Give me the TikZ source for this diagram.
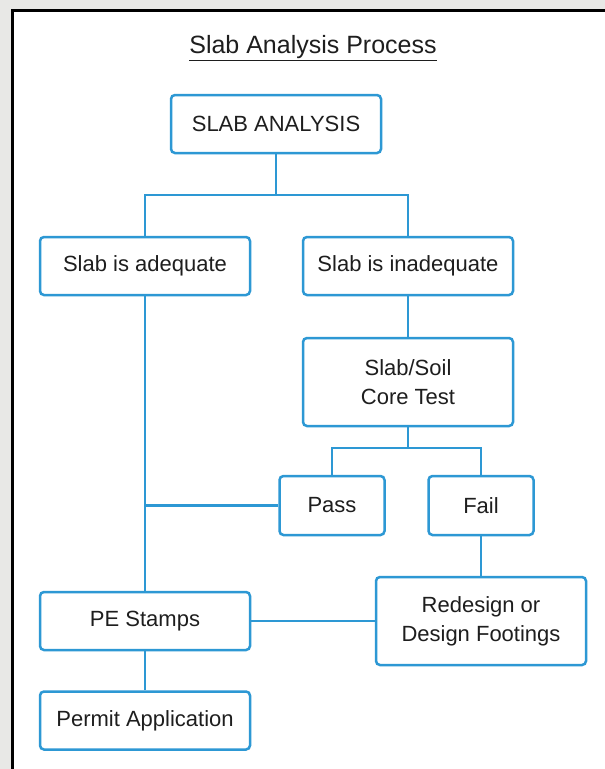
\documentclass[tikz,border=0pt]{standalone}
\usepackage{fontspec}
\setmainfont{Liberation Sans}
\definecolor{kaaviosini}{RGB}{45,152,212}
\definecolor{tekstiharmaa}{RGB}{30,30,30}
\definecolor{taustaharmaa}{RGB}{232,232,230}

\begin{document}
\begin{tikzpicture}[x=1pt,y=-1pt,
  laatikko/.style={draw=kaaviosini,line width=2.5pt,rounded corners=4pt,fill=white,
    text=tekstiharmaa,minimum width=210pt,minimum height=58pt,align=center,
    font=\fontsize{22}{29}\selectfont,inner sep=0pt},
  pieni/.style={laatikko,minimum width=105pt,minimum height=59pt},
  iso/.style={laatikko,minimum height=88pt},
  viiva/.style={draw=kaaviosini,line width=2.5pt}]
\useasboundingbox (0,0) rectangle (605,769);
\fill[taustaharmaa] (0,0) rectangle (605,769);
\fill[white] (12,10) rectangle (605,769);
\draw[line width=3pt,black] (12,769) -- (12,10) -- (605,10);

\node[text=tekstiharmaa,font=\fontsize{25}{28}\selectfont] (otsikko) at (313,48) {\underline{Slab Analysis Process}};

\node[laatikko] (analyysi) at (276,124) {SLAB ANALYSIS};
\node[laatikko] (riittava) at (145,266) {Slab is adequate};
\node[laatikko] (riittamaton) at (408,266) {Slab is inadequate};
\node[iso] (koe) at (408,382) {Slab/Soil\\Core Test};
\node[pieni] (hyvaksytty) at (332,505.5) {Pass};
\node[pieni] (hylatty) at (481,505.5) {Fail};
\node[laatikko] (leimat) at (145,621) {PE Stamps};
\node[iso] (uusi) at (481,621) {Redesign or\\Design Footings};
\node[laatikko] (lupa) at (145,720.5) {Permit Application};

\coordinate (haara1) at (276,195);
\coordinate (haara2) at (408,448);
\draw[viiva] (analyysi) -- (haara1);
\draw[viiva] (riittava.north) |- (haara1) -| (riittamaton.north);
\draw[viiva] (riittamaton) -- (koe);
\draw[viiva] (koe) -- (haara2);
\draw[viiva] (hyvaksytty.north) |- (haara2) -| (hylatty.north);
\draw[viiva] (riittava) -- (leimat);
\draw[viiva] (hyvaksytty.west) -- (hyvaksytty.west -| riittava.south);
\draw[viiva] (hylatty) -- (uusi);
\draw[viiva] (leimat) -- (uusi);
\draw[viiva] (leimat) -- (lupa);
\end{tikzpicture}
\end{document}
